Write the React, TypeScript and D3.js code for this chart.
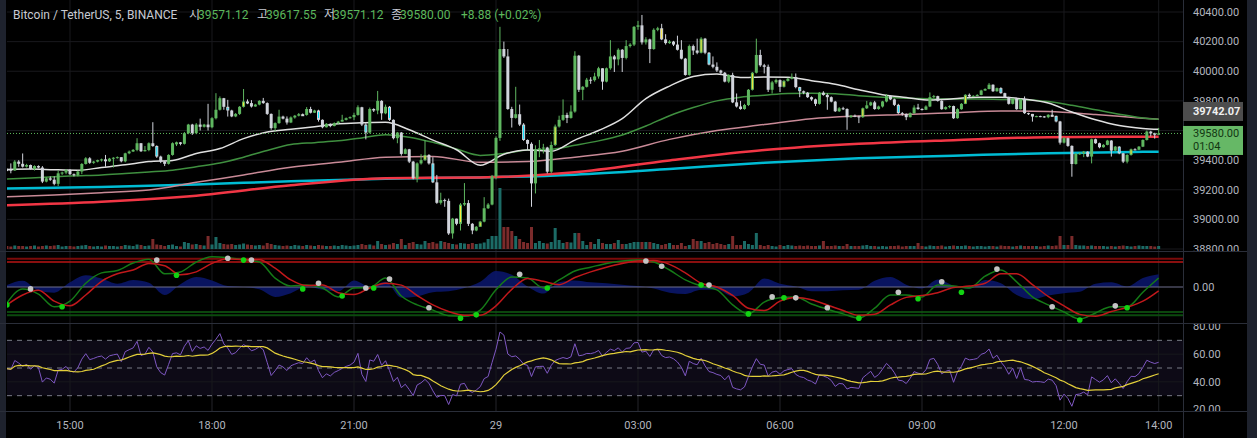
import React from "react";
import * as d3 from "d3";

const W = 1257;
const H = 438;

// 5 minute candles, 28th 13:40 -> 29th 14:00
const firstOpen = 39340;
const closes = [
  39335, 39330, 39390, 39375, 39356, 39367, 39340, 39360, 39350, 39255,
  39277, 39268, 39240, 39311, 39316, 39333, 39305, 39300, 39323, 39374,
  39412, 39382, 39390, 39400, 39405, 39392, 39410, 39416, 39420, 39392,
  39446, 39458, 39469, 39514, 39460, 39468, 39514, 39495, 39424, 39390,
  39375, 39435, 39514, 39520, 39510, 39582, 39640, 39582, 39640, 39625,
  39640, 39622, 39683, 39740, 39818, 39760, 39735, 39695, 39712, 39760,
  39796, 39785, 39762, 39775, 39800, 39785, 39712, 39616, 39650, 39694,
  39680, 39654, 39688, 39700, 39710, 39705, 39745, 39720, 39735, 39672,
  39622, 39645, 39630, 39650, 39660, 39672, 39683, 39690, 39705, 39757,
  39640, 39586, 39745, 39735, 39800, 39716, 39760, 39672, 39548, 39586,
  39442, 39473, 39390, 39277, 39378, 39400, 39435, 39378, 39250, 39112,
  39130, 39125, 38905, 39005, 38970, 39100, 39110, 38970, 38925, 38950,
  38985, 39075, 39100, 39290, 39550, 40150, 40100, 39745, 39685, 39710,
  39640, 39536, 39510, 39243, 39469, 39480, 39485, 39322, 39502, 39627,
  39672, 39705, 39685, 39728, 40105, 39875, 39895, 39943, 39940, 39965,
  40020, 39930, 40020, 40100, 40080, 40145, 40090, 40170, 40180, 40300,
  40310, 40195, 40215, 40150, 40280, 40290, 40215, 40190, 40200, 40180,
  40145, 40085, 39975, 40170, 40140, 40125, 40220, 40125, 40045, 40030,
  40005, 39990, 39930, 39975, 39790, 39762, 39745, 39772, 39875, 39990,
  40110, 40040, 40030, 39875, 39925, 39940, 39895, 39935, 39950, 39960,
  39893, 39865, 39855, 39825, 39810, 39780, 39855, 39840, 39825, 39795,
  39730, 39750, 39745, 39690, 39700, 39695, 39690, 39750, 39770, 39790,
  39745, 39762, 39796, 39834, 39810, 39773, 39717, 39712, 39690, 39717,
  39755, 39745, 39740, 39762, 39825, 39832, 39800, 39744, 39758, 39765,
  39683, 39744, 39780, 39841, 39830, 39834, 39840, 39870, 39880, 39909,
  39865, 39886, 39852, 39825, 39780, 39815, 39744, 39812, 39717, 39712,
  39694, 39697, 39695, 39690, 39706, 39699, 39661, 39518, 39548, 39496,
  39374, 39442, 39446, 39457, 39424, 39541, 39514, 39487, 39503, 39532,
  39464, 39491, 39446, 39390, 39435, 39473, 39470, 39491, 39536, 39593,
  39580, 39571, 39580,
];
const highs = [
  39345, 39378, 39400, 39400, 39445, 39375, 39370, 39365, 39365, 39360,
  39285, 39290, 39290, 39330, 39322, 39340, 39340, 39310, 39330, 39380,
  39420, 39420, 39395, 39403, 39410, 39435, 39415, 39420, 39425, 39420,
  39450, 39465, 39475, 39548, 39515, 39495, 39520, 39656, 39500, 39430,
  39395, 39440, 39520, 39525, 39522, 39590, 39645, 39645, 39650, 39680,
  39645, 39780, 39690, 39852, 39830, 39820, 39807, 39740, 39718, 39765,
  39880, 39810, 39805, 39780, 39805, 39820, 39790, 39715, 39655, 39740,
  39700, 39695, 39695, 39705, 39718, 39715, 39758, 39760, 39740, 39740,
  39675, 39650, 39648, 39655, 39665, 39706, 39688, 39695, 39720, 39770,
  39760, 39650, 39755, 39750, 39867, 39805, 39775, 39765, 39675, 39590,
  39590, 39480, 39476, 39395, 39385, 39440, 39536, 39440, 39420, 39300,
  39180, 39140, 39140, 39010, 39005, 39110, 39245, 39130, 38975, 38955,
  38990, 39150, 39110, 39300, 39560, 40300, 40200, 40150, 39760, 39895,
  39775, 39650, 39540, 39520, 39500, 39536, 39510, 39490, 39525, 39640,
  39700, 39810, 39720, 39770, 40135, 40110, 39900, 39955, 39960, 39990,
  40030, 40000, 40025, 40210, 40110, 40155, 40150, 40210, 40190, 40305,
  40340, 40380, 40230, 40220, 40290, 40300, 40320, 40250, 40210, 40205,
  40240, 40210, 40090, 40180, 40180, 40220, 40230, 40225, 40130, 40100,
  40060, 40010, 39995, 39980, 39990, 39850, 39800, 39780, 39880, 39995,
  40220, 40145, 40050, 40045, 39935, 39950, 39945, 39940, 39955, 39985,
  39985, 39895, 39870, 39860, 39830, 39815, 39860, 39865, 39850, 39830,
  39800, 39758, 39760, 39750, 39705, 39708, 39700, 39755, 39800, 39795,
  39800, 39768, 39800, 39845, 39838, 39815, 39780, 39725, 39715, 39722,
  39770, 39780, 39750, 39770, 39857, 39840, 39835, 39805, 39763, 39770,
  39768, 39750, 39785, 39845, 39850, 39838, 39845, 39875, 39885, 39920,
  39912, 39890, 39892, 39855, 39828, 39820, 39818, 39815, 39830, 39720,
  39710, 39700, 39700, 39698, 39710, 39740, 39700, 39665, 39555, 39552,
  39500, 39448, 39452, 39462, 39460, 39545, 39545, 39518, 39508, 39537,
  39535, 39495, 39494, 39448, 39440, 39478, 39480, 39495, 39540, 39600,
  39598, 39585, 39617.55,
];
const lows = [
  39325, 39311, 39328, 39355, 39350, 39350, 39335, 39330, 39345, 39245,
  39250, 39260, 39230, 39225, 39300, 39305, 39300, 39290, 39290, 39305,
  39370, 39375, 39375, 39385, 39390, 39355, 39388, 39350, 39410, 39385,
  39385, 39440, 39455, 39460, 39455, 39458, 39460, 39490, 39415, 39380,
  39360, 39370, 39430, 39495, 39500, 39505, 39575, 39570, 39575, 39600,
  39620, 39600, 39615, 39675, 39735, 39740, 39694, 39690, 39690, 39705,
  39755, 39778, 39755, 39760, 39770, 39780, 39705, 39605, 39595, 39645,
  39675, 39640, 39650, 39680, 39695, 39700, 39700, 39715, 39718, 39660,
  39615, 39620, 39622, 39628, 39640, 39660, 39668, 39680, 39670, 39700,
  39630, 39540, 39580, 39725, 39710, 39672, 39710, 39665, 39540, 39514,
  39430, 39440, 39380, 39270, 39250, 39370, 39395, 39370, 39245, 39105,
  39100, 39085, 38895, 38870, 38960, 38925, 39090, 38955, 38900, 38920,
  38955, 38980, 39070, 39095, 39270, 39530, 40090, 39740, 39620, 39680,
  39630, 39530, 39470, 39085, 39175, 39420, 39445, 39310, 39310, 39495,
  39620, 39665, 39650, 39680, 39720, 39860, 39805, 39890, 39915, 39930,
  39950, 39875, 39925, 40010, 39995, 40040, 39995, 40080, 40160, 40170,
  40280, 40180, 40180, 40055, 40145, 40270, 40210, 40180, 40185, 40170,
  40140, 40080, 39970, 39970, 40110, 40115, 40120, 40115, 40040, 40020,
  39995, 39975, 39925, 39920, 39785, 39755, 39740, 39740, 39765, 39870,
  39985, 40030, 39985, 39860, 39850, 39915, 39860, 39890, 39930, 39945,
  39885, 39825, 39845, 39820, 39800, 39765, 39775, 39835, 39740, 39790,
  39725, 39725, 39738, 39605, 39685, 39690, 39650, 39685, 39745, 39765,
  39740, 39740, 39755, 39790, 39805, 39765, 39712, 39700, 39670, 39688,
  39712, 39740, 39735, 39738, 39758, 39820, 39795, 39740, 39740, 39750,
  39678, 39680, 39740, 39778, 39825, 39826, 39830, 39838, 39868, 39878,
  39860, 39862, 39848, 39820, 39775, 39776, 39740, 39742, 39712, 39705,
  39660, 39690, 39690, 39686, 39683, 39695, 39655, 39505, 39512, 39490,
  39288, 39370, 39436, 39420, 39420, 39378, 39510, 39480, 39484, 39500,
  39424, 39460, 39440, 39380, 39378, 39430, 39466, 39468, 39488, 39532,
  39560, 39545, 39571.12,
];
const volumes = [
  30, 25, 35, 30, 30, 25, 30, 35, 25, 30,
  35, 30, 35, 40, 25, 30, 30, 25, 30, 35,
  40, 30, 25, 30, 25, 35, 30, 30, 25, 30,
  40, 35, 30, 45, 40, 30, 35, 100, 45, 40,
  30, 40, 45, 30, 25, 70, 60, 45, 50, 40,
  35, 130, 45, 120, 60, 50, 45, 50, 40, 45,
  55, 45, 40, 35, 40, 35, 60, 50, 40, 35,
  30, 35, 30, 40, 35, 30, 40, 35, 30, 40,
  35, 30, 30, 35, 30, 40, 35, 30, 35, 40,
  50, 40, 45, 35, 80, 50, 40, 45, 60, 50,
  100, 40, 60, 70, 50, 45, 80, 60, 70, 55,
  80, 70, 60, 50, 45, 60, 55, 50, 60, 50,
  55, 65, 100, 130, 130, 610, 220, 220, 180, 130,
  100, 70, 60, 220, 60, 80, 60, 55, 70, 210,
  90, 60, 70, 65, 160, 160, 80, 40, 70, 50,
  100, 60, 50, 50, 60, 90, 50, 50, 60, 70,
  70, 70, 70, 70, 60, 50, 40, 50, 60, 40,
  40, 60, 30, 40, 100, 80, 80, 60, 70, 50,
  60, 50, 40, 50, 130, 40, 40, 80, 50, 40,
  160, 40, 30, 40, 30, 25, 40, 30, 40, 35,
  30, 35, 30, 35, 30, 30, 35, 80, 30, 30,
  35, 30, 30, 50, 30, 30, 30, 35, 40, 30,
  30, 25, 30, 25, 30, 30, 35, 25, 30, 30,
  30, 60, 30, 25, 35, 30, 30, 35, 25, 30,
  35, 30, 30, 35, 30, 25, 30, 30, 25, 30,
  30, 25, 35, 30, 30, 25, 30, 35, 30, 30,
  30, 30, 25, 30, 35, 30, 35, 130, 40, 40,
  130, 40, 35, 35, 30, 35, 30, 30, 30, 25,
  30, 25, 30, 35, 30, 25, 30, 35, 30, 30,
  30, 25, 30,
];
// highlighted bars
const yellowBars = [0, 43, 60, 75, 106, 115, 120, 139, 166, 176, 189, 195, 197, 217, 243, 265, 285];
const cyanBars = [38, 56, 61, 79, 91, 97, 108, 131, 178, 201, 226, 252, 266, 282];

// moving averages, sampled every 6 bars (fast) and 12 / 24 bars (slow)
const maWhite = [
  39337, 39340, 39335, 39332, 39350, 39368, 39390, 39398, 39445, 39478,
  39545, 39590, 39608, 39625, 39645, 39652, 39656, 39605, 39535, 39470,
  39365, 39440, 39469, 39460, 39535, 39600, 39680, 39815, 39900, 39965,
  39981, 39958, 39962, 39960, 39936, 39912, 39875, 39842, 39823, 39806,
  39814, 39825, 39824, 39812, 39785, 39725, 39672, 39633, 39614, 39608,
];
const maGreen = [
  39272, 39280, 39288, 39294, 39300, 39310, 39320, 39332, 39355, 39380,
  39420, 39465, 39505, 39518, 39530, 39550, 39572, 39555, 39520, 39475,
  39432, 39445, 39468, 39473, 39500, 39530, 39570, 39630, 39700, 39755,
  39800, 39825, 39838, 39850, 39852, 39848, 39835, 39825, 39818, 39814,
  39812, 39812, 39810, 39808, 39795, 39770, 39740, 39710, 39685, 39676,
];
const maPink = [
  39153, 39165, 39180, 39198, 39250, 39300, 39352, 39385, 39420, 39425,
  39385, 39390, 39420, 39460, 39540, 39600, 39640, 39680, 39698, 39708,
  39720, 39732, 39728, 39708, 39683, 39676,
];
const maRed = [39096, 39119, 39160, 39230, 39278, 39283, 39318, 39398, 39468, 39510, 39535, 39555, 39558, 39558];
const maCyan = [39209, 39218, 39235, 39258, 39275, 39283, 39302, 39340, 39382, 39412, 39430, 39447, 39456, 39457];

// wave trend oscillator, sampled every 4 bars
const wt1 = [
  -34, -4, -15, -42, -30, 8, 30, 35, 51, 59,
  28, 32, 53, 64, 62, 58, 53, 19, 2, 4,
  -2, -21, -2, -1, 19, -19, -38, -49, -61, -62,
  -49, -6, 21, 19, -2, 15, 34, 42, 50, 55,
  57, 53, 36, 15, 2, -6, -38, -57, -32, -23,
  -21, -36, -47, -57, -66, -45, -17, -17, -21, 4,
  2, -2, 23, 36, 11, -21, -38, -53, -68, -55,
  -42, -42, -11, 19,
];
const wt2 = [
  -38, -17, -7, -30, -40, -17, 12, 28, 36, 50,
  45, 26, 32, 50, 60, 58, 58, 40, 15, 3,
  4, -12, -16, -2, 8, 4, -18, -38, -52, -60,
  -60, -40, -5, 18, 12, 5, 20, 32, 42, 50,
  55, 56, 48, 30, 8, 0, -18, -45, -50, -30,
  -22, -27, -38, -50, -60, -58, -38, -22, -18, -12,
  -1, 2, 8, 28, 28, 5, -20, -40, -58, -62,
  -52, -43, -30, -8,
];
const crossIdx = [0, 6, 14, 38, 43, 56, 60, 62, 75, 79, 85, 91, 93, 97, 107, 115, 119, 130, 137, 162, 166, 176, 178, 188, 194, 197, 200, 208, 216, 226, 231, 237, 242, 251, 265, 272, 281, 284];
const crossVal = [-38, -4, -42, 57, 25, 61, 57, 57, -4, 8, -19, -2, -2, 17, -44, -66, -59, 27, -2, 55, 44, 4, 4, -57, -21, -23, -23, -44, -66, -11, -25, 11, -11, 38, -42, -70, -40, -44];
const crossUp = [1, 0, 1, 0, 1, 0, 1, 0, 1, 0, 1, 0, 1, 0, 0, 1, 1, 0, 1, 0, 0, 1, 0, 1, 0, 1, 0, 0, 1, 0, 1, 0, 1, 0, 0, 1, 0, 1];

const rsiSeed = 18; // assumed avg gain/loss before the window
const priceTicks = [38800, 39000, 39200, 39400, 39600, 39800, 40000, 40200, 40400];
const rsiTicks = [20, 40, 60, 80];
const markValue = 39742.07;
const countdown = "01:04";

const FONT = "Roboto, 'Noto Sans CJK KR', sans-serif";
const GRID = "#18191d";
const BORDER = "#2a2e39";
const AXIS_TXT = "#b2b5be";
const UP = "#5fb760";
const DOWN = "#d1d4dc";

export default function App() {
  const n = closes.length;
  const t0 = new Date(2022, 0, 28, 13, 40);
  const opens = closes.map((_, i) => (i === 0 ? firstOpen : closes[i - 1]));

  const x = d3.scaleTime()
    .domain([new Date(2022, 0, 28, 15, 0), new Date(2022, 0, 29, 12, 0)])
    .range([70, 1064]);
  const xi = (i: number) => x(d3.timeMinute.offset(t0, 5 * i));

  const yP = d3.scaleLinear().domain([38800, 40400]).range([249, 12]);
  const yV = d3.scaleLinear().domain([0, 610]).range([249, 188]);
  const yO = d3.scaleLinear().domain([-60, 60]).range([315.3, 258.7]);
  const yR = d3.scaleLinear().domain([20, 80]).range([409.5, 326.5]);

  const timeTicks = [
    new Date(2022, 0, 28, 15), new Date(2022, 0, 28, 18), new Date(2022, 0, 28, 21),
    new Date(2022, 0, 29, 0), new Date(2022, 0, 29, 3), new Date(2022, 0, 29, 6),
    new Date(2022, 0, 29, 9), new Date(2022, 0, 29, 12), new Date(2022, 0, 29, 14),
  ];
  const fmtT = (d: Date) => (d.getHours() === 0 ? d3.timeFormat("%-d")(d) : d3.timeFormat("%H:%M")(d));

  const sampleIdx = (step: number) => d3.range(0, n - 4, step).concat([n - 1]);
  const fastIdx = sampleIdx(6);
  const midIdx = sampleIdx(12);
  const slowIdx = sampleIdx(24);
  const oscIdx = sampleIdx(4);

  const maLine = (idx: number[]) =>
    d3.line<number>().x((_, k) => xi(idx[k])).y((v) => yP(v)).curve(d3.curveMonotoneX);

  // RSI 14 (Wilder) and its 14 bar average
  const rsi: number[] = [];
  let ag = rsiSeed, al = rsiSeed;
  closes.forEach((c, i) => {
    const ch = c - opens[i];
    ag = (ag * 13 + Math.max(ch, 0)) / 14;
    al = (al * 13 + Math.max(-ch, 0)) / 14;
    rsi.push(al === 0 ? 100 : 100 - 100 / (1 + ag / al));
  });
  const rsiMa = rsi.map((_, i) => d3.mean(rsi.slice(Math.max(0, i - 13), i + 1)) as number);

  const oscLine = d3.line<number>().x((_, k) => xi(oscIdx[k])).y((v) => yO(v)).curve(d3.curveMonotoneX);
  const oscArea = d3.area<number>()
    .x((_, k) => xi(oscIdx[k]))
    .y0(yO(0))
    .y1((_, k) => yO(wt1[k] - wt2[k]))
    .curve(d3.curveMonotoneX);
  const rsiLine = d3.line<number>().x((_, i) => xi(i)).y((v) => yR(v));

  const last = closes[n - 1];
  const f2 = d3.format(".2f");
  // axis labels hidden behind the live price label
  const shownTicks = priceTicks.filter((p) => Math.abs(yP(p) - (yP(last) + 7)) > 12);

  return (
    <div style={{ position: "absolute", left: 0, top: 0, width: W, height: H, background: "#000" }}>
      <svg width={W} height={H} style={{ display: "block" }} fontFamily={FONT}>
        <defs>
          <clipPath id="cMain"><rect x={7} y={0} width={1176} height={251} /></clipPath>
          <clipPath id="cOsc"><rect x={7} y={252} width={1176} height={71} /></clipPath>
          <clipPath id="cRsi"><rect x={7} y={324} width={1176} height={87} /></clipPath>
          <clipPath id="aMain"><rect x={1184} y={0} width={63} height={251} /></clipPath>
          <clipPath id="aRsi"><rect x={1184} y={324} width={63} height={87} /></clipPath>
        </defs>
        <rect x={0} y={0} width={W} height={H} fill="#000" />

        {/* grid */}
        {timeTicks.map((t, k) => (
          <line key={"vg" + k} x1={x(t)} x2={x(t)} y1={0} y2={411} stroke={GRID} />
        ))}
        {priceTicks.map((p) => (
          <line key={"hg" + p} x1={7} x2={1183} y1={yP(p)} y2={yP(p)} stroke={GRID} />
        ))}

        {/* main pane */}
        <g clipPath="url(#cMain)">
          {volumes.map((v, i) => (
            <rect key={"v" + i} x={xi(i) - 1.5} width={3} y={yV(v)} height={yV(0) - yV(v)}
              fill={closes[i] >= opens[i] ? "#1c6b66" : "#7b2b2b"} />
          ))}
          <path d={maLine(slowIdx)(maCyan) || ""} fill="none" stroke="#00bcd4" strokeWidth={2.5} />
          <path d={maLine(slowIdx)(maRed) || ""} fill="none" stroke="#f23645" strokeWidth={2.5} />
          <path d={maLine(midIdx)(maPink) || ""} fill="none" stroke="#c98a97" strokeWidth={1.5} />
          <path d={maLine(fastIdx)(maGreen) || ""} fill="none" stroke="#3f8f3f" strokeWidth={1.5} />
          <path d={maLine(fastIdx)(maWhite) || ""} fill="none" stroke="#e0e0e0" strokeWidth={1.5} />
          <line x1={7} x2={1183} y1={yP(last)} y2={yP(last)} stroke="#5cb85c" strokeDasharray="1 2" />
          {closes.map((c, i) => {
            const o = opens[i];
            const up = c >= o;
            const col = up ? UP : DOWN;
            const hi = Math.max(highs[i], o, c);
            const lo = Math.min(lows[i], o, c);
            const cx = xi(i);
            const top = yP(Math.max(o, c));
            const hgt = Math.max(1, Math.abs(yP(o) - yP(c)));
            const special = yellowBars.includes(i) ? "#ffeb3b" : cyanBars.includes(i) ? "#00e5ff" : null;
            return (
              <g key={"c" + i}>
                <line x1={cx} x2={cx} y1={yP(hi)} y2={yP(lo)} stroke={col} />
                {special ? (
                  <rect x={cx - 1} y={top + 0.5} width={2} height={Math.max(1, hgt - 1)} fill={special} stroke={col} strokeWidth={1} />
                ) : (
                  <rect x={cx - 1.5} y={top} width={3} height={hgt} fill={col} />
                )}
              </g>
            );
          })}
        </g>

        {/* wave trend pane */}
        <g clipPath="url(#cOsc)">
          <line x1={7} x2={1183} y1={yO(60)} y2={yO(60)} stroke="#7a0a0a" strokeWidth={2} />
          <line x1={7} x2={1183} y1={yO(53)} y2={yO(53)} stroke="#b81414" strokeWidth={1.5} />
          <line x1={7} x2={1183} y1={yO(-53)} y2={yO(-53)} stroke="#0f5e12" strokeWidth={1.5} />
          <line x1={7} x2={1183} y1={yO(-60)} y2={yO(-60)} stroke="#0b4a0e" strokeWidth={2} />
          <path d={oscArea(wt1) || ""} fill="#0b1870" opacity={0.85} />
          <line x1={7} x2={1183} y1={yO(0)} y2={yO(0)} stroke="#6f6f8c" />
          <path d={oscLine(wt1) || ""} fill="none" stroke="#157a17" strokeWidth={1.5} />
          <path d={oscLine(wt2) || ""} fill="none" stroke="#c0181b" strokeWidth={1.5} />
          {crossIdx.map((ci, k) => (
            <circle key={"d" + k} cx={xi(ci)} cy={yO(crossVal[k])} r={2.8}
              fill={crossUp[k] ? "#12d312" : "#c4c4c4"} />
          ))}
        </g>

        {/* RSI pane */}
        <g clipPath="url(#cRsi)">
          <rect x={7} y={yR(70)} width={1176} height={yR(30) - yR(70)} fill="#0d0a16" />
          {[60, 40].map((v) => (
            <line key={"rg" + v} x1={7} x2={1183} y1={yR(v)} y2={yR(v)} stroke={GRID} />
          ))}
          {timeTicks.map((t, k) => (
            <line key={"rv" + k} x1={x(t)} x2={x(t)} y1={324} y2={411} stroke={GRID} />
          ))}
          {[70, 50, 30].map((v) => (
            <line key={"rd" + v} x1={7} x2={1183} y1={yR(v)} y2={yR(v)} stroke="#787b86" strokeDasharray="5 5" />
          ))}
          <path d={rsiLine(rsi) || ""} fill="none" stroke="#7e57c2" strokeWidth={1} />
          <path d={rsiLine(rsiMa) || ""} fill="none" stroke="#e3cf3a" strokeWidth={1.2} />
        </g>

        {/* frame */}
        <rect x={0} y={0} width={6} height={H} fill="#1e222d" />
        <rect x={1247} y={0} width={10} height={H} fill="#1e222d" />
        {[251.5, 323.5, 411.5].map((yy) => (
          <line key={"sep" + yy} x1={0} x2={1247} y1={yy} y2={yy} stroke={BORDER} />
        ))}
        <line x1={1183.5} x2={1183.5} y1={0} y2={H} stroke={BORDER} />

        {/* price axis */}
        <g clipPath="url(#aMain)" fontSize={11} fill={AXIS_TXT}>
          {shownTicks.map((p) => (
            <text key={"pt" + p} x={1193} y={yP(p)} dy="0.35em">{f2(p)}</text>
          ))}
        </g>
        <text x={1193} y={yO(0)} dy="0.35em" fontSize={11} fill={AXIS_TXT}>0.00</text>
        <g clipPath="url(#aRsi)" fontSize={11} fill={AXIS_TXT}>
          {rsiTicks.map((v) => (
            <text key={"rt" + v} x={1193} y={yR(v)} dy="0.35em">{f2(v)}</text>
          ))}
        </g>

        {/* value labels */}
        <rect x={1183} y={yP(markValue) - 7.5} width={60} height={19} fill="#4d4d4d" />
        <text x={1193} y={yP(markValue) + 2} dy="0.35em" fontSize={11} fontWeight="bold" fill="#f0f0f0">{f2(markValue)}</text>
        <rect x={1183} y={yP(last) - 7.5} width={60} height={29} fill="#66b866" />
        <text x={1193} y={yP(last)} dy="0.35em" fontSize={11} fill="#123612">{f2(last)}</text>
        <text x={1193} y={yP(last) + 13} dy="0.35em" fontSize={11} fill="#123612">{countdown}</text>

        {/* time axis */}
        {timeTicks.map((t, k) => (
          <text key={"tt" + k} x={x(t)} y={425} dy="0.35em" textAnchor="middle" fontSize={11} fill={AXIS_TXT}>{fmtT(t)}</text>
        ))}

        {/* legend */}
        <g fontSize={12}>
          <text x={13} y={19} fill="#c8cbd3">Bitcoin / TetherUS, 5, BINANCE</text>
          <text x={189} y={19} fill="#c8cbd3">시</text>
          <text x={198} y={19} fill="#5cb85c">{f2(opens[n - 1] + 0.12)}</text>
          <text x={257} y={19} fill="#c8cbd3">고</text>
          <text x={266} y={19} fill="#5cb85c">{f2(highs[n - 1])}</text>
          <text x={324} y={19} fill="#c8cbd3">저</text>
          <text x={333} y={19} fill="#5cb85c">{f2(lows[n - 1])}</text>
          <text x={391} y={19} fill="#c8cbd3">종</text>
          <text x={400} y={19} fill="#5cb85c">{f2(last)}</text>
          <text x={461} y={19} fill="#5cb85c">{"+" + f2(last - lows[n - 1]) + " (+" + f2(((last - lows[n - 1]) / lows[n - 1]) * 100) + "%)"}</text>
        </g>
      </svg>
    </div>
  );
}
